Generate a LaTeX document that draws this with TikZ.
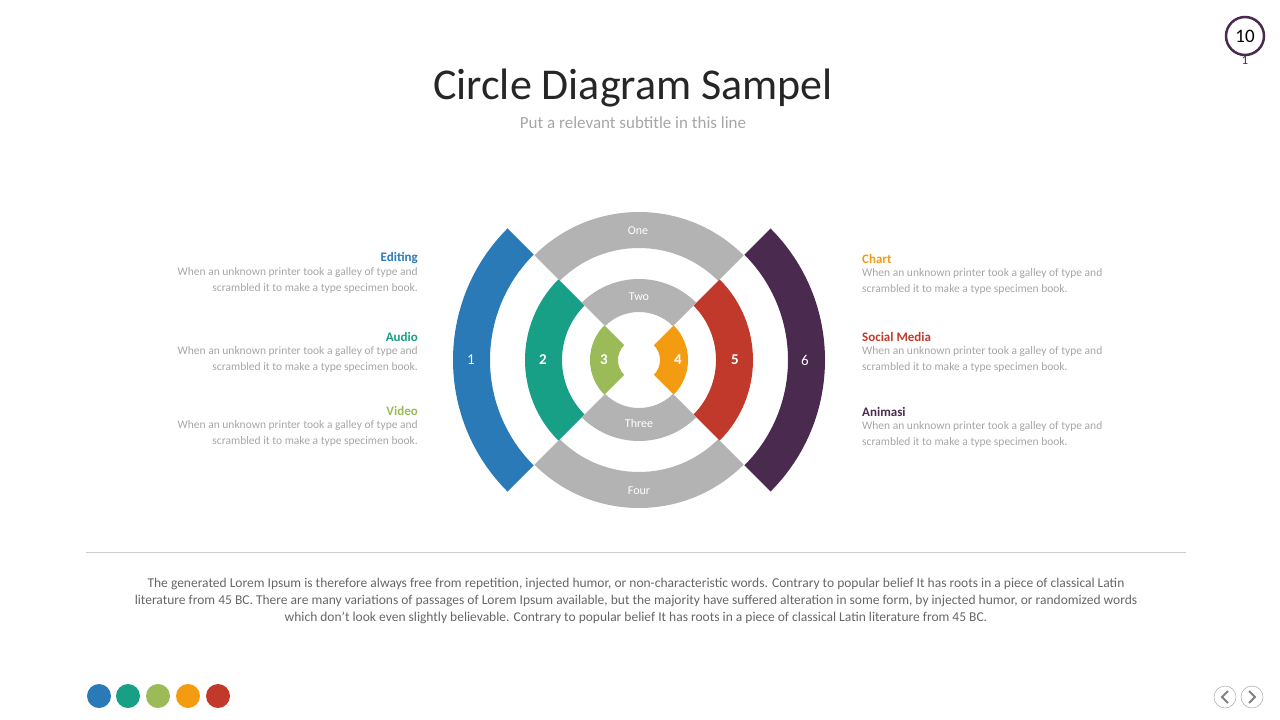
\documentclass[tikz,border=0pt]{standalone}
\usepackage{fontspec}
\setmainfont{Carlito}
\usetikzlibrary{calc}
\definecolor{cblue}{HTML}{2A7AB8}
\definecolor{cteal}{HTML}{17A086}
\definecolor{cgreen}{HTML}{9BBB59}
\definecolor{corange}{HTML}{F39C12}
\definecolor{cred}{HTML}{C0392B}
\definecolor{cpurple}{HTML}{4A2A4F}
\definecolor{cgray}{HTML}{B3B3B3}
\definecolor{ctext}{HTML}{A6A6A6}
\newcommand{\ringpart}[5]{\fill[#1] ($(c)+(#2:#5)$) arc[start angle=#2,end angle=#3,radius=#5] -- ($(c)+(#3:#4)$) arc[start angle=#3,end angle=#2,radius=#4] -- cycle;}
\begin{document}
\begin{tikzpicture}[x=1pt,y=-1pt,inner sep=0,
  ringlabel/.style={text=white,font=\fontsize{12}{14}\selectfont},
  numlabel/.style={text=white,font=\fontsize{15}{17}\selectfont},
  heading/.style={font=\bfseries\fontsize{13}{15}\selectfont},
  body/.style={text=ctext,font=\fontsize{11.5}{16.5}\selectfont},
  dot/.style={circle,minimum size=24pt}]
  \useasboundingbox (0,0) rectangle (1280,720);
  \coordinate (c) at (639,360);
  % rings
  \ringpart{cblue}{135}{225}{149}{186}
  \ringpart{cpurple}{-45}{45}{149}{186}
  \ringpart{cgray}{45}{135}{112}{148}
  \ringpart{cgray}{225}{315}{112}{148}
  \ringpart{cteal}{135}{225}{77}{114}
  \ringpart{cred}{-45}{45}{77}{114}
  \ringpart{cgray}{45}{135}{48}{81}
  \ringpart{cgray}{225}{315}{48}{81}
  \ringpart{cgreen}{135}{225}{21}{49}
  \ringpart{corange}{-45}{45}{21}{49}
  \node[ringlabel] (one) at (638,231) {One};
  \node[ringlabel] (two) at (639,297) {Two};
  \node[ringlabel] (three) at (639,423) {Three};
  \node[ringlabel] (four) at (639,491) {Four};
  \node[numlabel] (n1) at (471,360) {1};
  \node[numlabel,font=\bfseries\fontsize{15}{17}\selectfont] (n2) at (543,360) {2};
  \node[numlabel,font=\bfseries\fontsize{15}{17}\selectfont] (n3) at (604,360) {3};
  \node[numlabel,font=\bfseries\fontsize{15}{17}\selectfont] (n4) at (678,360) {4};
  \node[numlabel,font=\bfseries\fontsize{15}{17}\selectfont] (n5) at (735,360) {5};
  \node[numlabel] (n6) at (805,360) {6};
  % titles
  \node[font=\fontsize{44}{50}\selectfont,text=black!85] (title) at (633,88) {Circle Diagram Sampel};
  \node[font=\fontsize{17}{20}\selectfont,text=ctext] (subtitle) at (633,123) {Put a relevant subtitle in this line};
  % side texts
  \node[heading,text=cblue,anchor=east] (editing) at (418,258) {Editing};
  \node[body,anchor=north east,align=right] (editingtxt) at (418,267) {When an unknown printer took a galley of type and\\scrambled it to make a type specimen book.};
  \node[heading,text=cteal,anchor=east] (audio) at (418,337) {Audio};
  \node[body,anchor=north east,align=right] (audiotxt) at (418,346) {When an unknown printer took a galley of type and\\scrambled it to make a type specimen book.};
  \node[heading,text=cgreen,anchor=east] (video) at (418,411) {Video};
  \node[body,anchor=north east,align=right] (videotxt) at (418,420) {When an unknown printer took a galley of type and\\scrambled it to make a type specimen book.};
  \node[heading,text=corange,anchor=west] (chart) at (862,259) {Chart};
  \node[body,anchor=north west,align=left] (charttxt) at (862,268) {When an unknown printer took a galley of type and\\scrambled it to make a type specimen book.};
  \node[heading,text=cred,anchor=west] (social) at (862,337) {Social Media};
  \node[body,anchor=north west,align=left] (socialtxt) at (862,346) {When an unknown printer took a galley of type and\\scrambled it to make a type specimen book.};
  \node[heading,text=cpurple,anchor=west] (animasi) at (862,412) {Animasi};
  \node[body,anchor=north west,align=left] (animasitxt) at (862,421) {When an unknown printer took a galley of type and\\scrambled it to make a type specimen book.};
  % footer
  \draw[black!20] (86,552) -- (1186,552);
  \node[align=center,text=black!60,font=\fontsize{13.5}{17}\selectfont] (para) at (636,601) {The generated Lorem Ipsum is therefore always free from repetition, injected humor, or non-characteristic words. Contrary to popular belief It has roots in a  piece of classical Latin\\literature from 45 BC. There are many variations of passages of Lorem Ipsum available, but the majority have suffered alteration in some form, by injected humor, or randomized words\\which don't look even slightly believable. Contrary to popular belief It has roots in a piece of classical Latin literature from 45 BC.};
  \foreach \col/\xx [count=\i] in {cblue/99,cteal/128,cgreen/158,corange/188,cred/218}
    \node[dot,fill=\col] (dot\i) at (\xx,696) {};
  \node[circle,draw=cpurple,line width=2.5pt,minimum size=38pt,font=\fontsize{19}{20}\selectfont] (page) at (1245,36) {10};
  \node[font=\fontsize{13}{14}\selectfont,text=cpurple] (pagesub) at (1245,60) {1};
  \node[circle,draw=black!40,minimum size=22pt] (prev) at (1225,697) {};
  \node[circle,draw=black!40,minimum size=22pt] (next) at (1252,697) {};
  \draw[black!50,line width=2pt] ($(prev)+(3,-6)$) -- ($(prev)+(-3,0)$) -- ($(prev)+(3,6)$);
  \draw[black!50,line width=2pt] ($(next)+(-3,-6)$) -- ($(next)+(3,0)$) -- ($(next)+(-3,6)$);
\end{tikzpicture}
\end{document}
